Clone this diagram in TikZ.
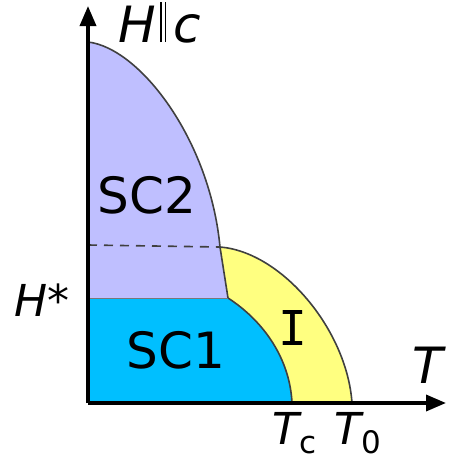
\documentclass[tikz,border=0pt]{standalone}
\usepackage{fontspec}
\setmainfont{DejaVu Sans}
\newfontfamily\monofam{DejaVu Sans Mono}
\usetikzlibrary{arrows.meta}
\definecolor{lav}{HTML}{BFBFFF}
\definecolor{sky}{HTML}{00BFFF}
\definecolor{yel}{HTML}{FFFF80}
\definecolor{bnd}{HTML}{404040}
\tikzset{
  axis/.style={line width=3.5pt, -{Triangle[length=20pt,width=16pt]}},
  bound/.style={draw=bnd, line width=1.6pt},
  big/.style={font=\fontsize{50}{50}\selectfont, inner sep=0pt},
  mid/.style={font=\fontsize{44}{44}\selectfont, inner sep=0pt},
}
\newcommand{\subtxt}[1]{\raisebox{-9pt}{\upshape\fontsize{31}{31}\selectfont #1}}
\begin{document}
\begin{tikzpicture}[x=1pt,y=-1pt]
\useasboundingbox (0,0) rectangle (448,461);
\coordinate (O) at (88,403);
\coordinate (Ytop) at (88,6);
\coordinate (Xend) at (446,403);
\coordinate (A) at (88,42);
\coordinate (J) at (220,247);
\coordinate (K) at (228,298);
\coordinate (Hs) at (88,298);
\coordinate (Tc) at (292,403);
\coordinate (T0) at (352,403);
\coordinate (Dl) at (88,245);
% regions
\fill[lav] (A) .. controls (140,48) and (210,140) .. (J) -- (K) -- (Hs) -- cycle;
\fill[sky] (Hs) -- (K) .. controls (265,322) and (290,360) .. (Tc) -- (O) -- cycle;
\fill[yel] (J) .. controls (282,252) and (347,330) .. (T0) -- (Tc) .. controls (290,360) and (265,322) .. (K) -- cycle;
% boundaries
\draw[bound] (A) .. controls (140,48) and (210,140) .. (J) -- (K);
\draw[bound] (K) .. controls (265,322) and (290,360) .. (Tc);
\draw[bound] (J) .. controls (282,252) and (347,330) .. (T0);
\draw[draw=bnd!70, line width=1pt] (Hs) -- (K);
\draw[bound, dash pattern=on 9pt off 7pt] (Dl) -- (J);
% axes
\draw[axis] (O) -- (Ytop);
\draw[axis] (O) -- (Xend);
% labels
\node[big] (sc2) at (147,195) {SC2};
\node[big] (sc1) at (176,350) {SC1};
\node[inner sep=0pt, font=\monofam\fontsize{48}{48}\selectfont] (one) at (293,328) {I};
\node[big, anchor=base west] (hc) at (118,42) {\itshape H\kern4pt\rule{1.8pt}{40pt}\kern3pt\rule{1.8pt}{40pt}\kern7pt c};
\node[mid, anchor=base west] (hstar) at (14,316) {\itshape H*};
\node[mid, anchor=base west] (tc) at (272,444) {\itshape T\subtxt{c}};
\node[mid, anchor=base west] (t0) at (334,444) {\itshape T\subtxt{0}};
\node[big, anchor=base west] (tt) at (412,383) {\itshape T};
\end{tikzpicture}
\end{document}
